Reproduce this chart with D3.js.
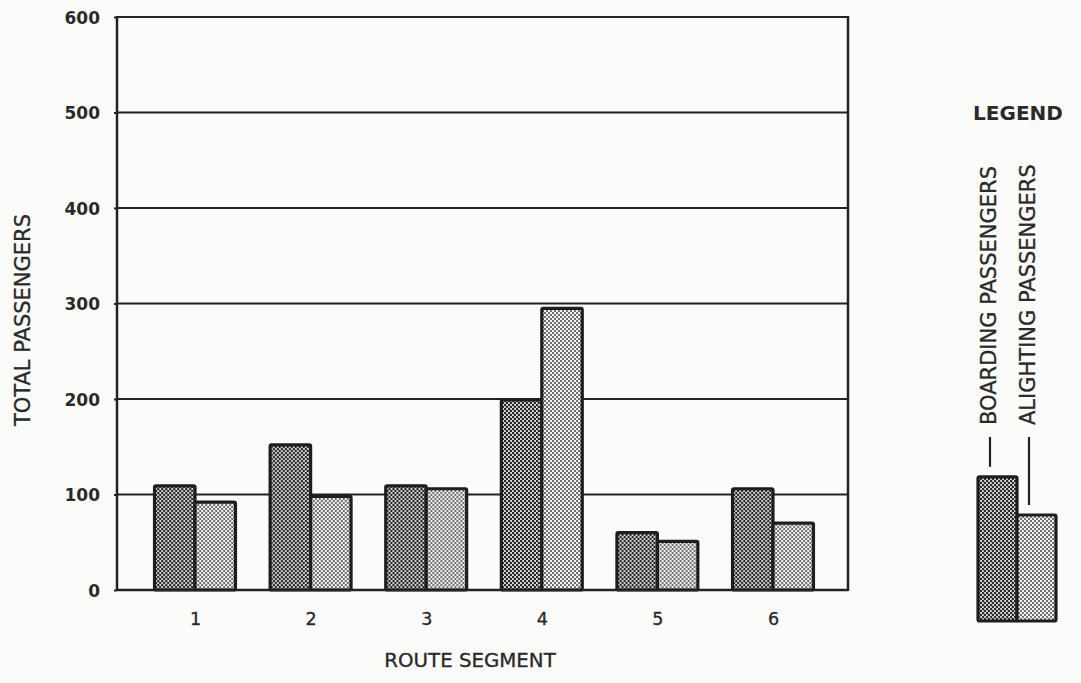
<!DOCTYPE html>
<html><head><meta charset="utf-8">
<script src="https://cdn.jsdelivr.net/npm/d3@7"></script>
<style>
html,body{margin:0;padding:0;background:#fbfbfa;}
svg{display:block;}
</style></head>
<body>
<svg id="chart" width="1081" height="683" font-family="DejaVu Sans, sans-serif"></svg>
<script>
const categories = ["1","2","3","4","5","6"];
const seriesNames = ["BOARDING PASSENGERS","ALIGHTING PASSENGERS"];
const boarding = [109, 152, 109, 199, 60, 106];
const alighting = [92, 98, 106, 295, 51, 70];
const yTicks = [0,100,200,300,400,500,600];
const legendSample = [151, 111];

const svg = d3.select("#chart");
const plot = {left:117, right:848, top:17, bottom:590};
const ink = "#2a2a2a";

const defs = svg.append("defs");
function dotPattern(id, r, bg, fg){
  const p = defs.append("pattern").attr("id", id).attr("patternUnits","userSpaceOnUse")
    .attr("width",4).attr("height",4);
  p.append("rect").attr("width",4).attr("height",4).attr("fill",bg);
  p.append("circle").attr("cx",1).attr("cy",1).attr("r",r).attr("fill",fg);
  p.append("circle").attr("cx",3).attr("cy",3).attr("r",r).attr("fill",fg);
}
dotPattern("pBoard", 1.35, "#e6e6e6", "#2b2b2b");
dotPattern("pAlight", 0.95, "#f2f2f2", "#3a3a3a");
const fills = ["url(#pBoard)","url(#pAlight)"];

const y = d3.scaleLinear().domain([0,600]).range([plot.bottom, plot.top]);
const x = d3.scaleBand().domain(categories).range([137.2, 830.8]).padding(0);
const xs = d3.scaleBand().domain([0,1]).range([x.step()*0.15, x.step()*0.85]).padding(0);

// gridlines
svg.append("g").selectAll("line").data(yTicks).join("line")
  .attr("x1", plot.left).attr("x2", plot.right)
  .attr("y1", d=>y(d)).attr("y2", d=>y(d))
  .attr("stroke","#222").attr("stroke-width",2);

// y axis
const yAxis = d3.axisLeft(y).tickValues(yTicks).tickSize(3).tickPadding(14);
const gy = svg.append("g").attr("transform",`translate(${plot.left},0)`).call(yAxis);
gy.attr("font-family",null).attr("font-size",null);
gy.select(".domain").remove();
gy.selectAll(".tick line").attr("stroke","#222").attr("stroke-width",2);
gy.selectAll(".tick text").attr("font-size",17).attr("font-weight","bold").attr("fill",ink)
  .attr("dy","0.36em");

// bars
const data = categories.map((c,i)=>({c, vals:[boarding[i], alighting[i]]}));
const groups = svg.append("g").selectAll("g").data(data).join("g")
  .attr("transform", d=>`translate(${x(d.c)},0)`);
groups.selectAll("rect").data(d=>d.vals.map((v,k)=>({v,k}))).join("rect")
  .attr("x", d=>xs(d.k)).attr("width", xs.bandwidth())
  .attr("y", d=>y(d.v)).attr("height", d=>y(0)-y(d.v))
  .attr("fill", d=>fills[d.k]).attr("stroke","#1e1e1e").attr("stroke-width",3.2)
  .attr("rx",1.5);

// frame
svg.append("line").attr("x1",plot.left).attr("x2",plot.left).attr("y1",plot.top-1).attr("y2",plot.bottom+1)
  .attr("stroke","#222").attr("stroke-width",2.5);
svg.append("line").attr("x1",plot.right).attr("x2",plot.right).attr("y1",plot.top-1).attr("y2",plot.bottom+1)
  .attr("stroke","#222").attr("stroke-width",2.5);
svg.append("line").attr("x1",plot.left).attr("x2",plot.right).attr("y1",plot.bottom).attr("y2",plot.bottom)
  .attr("stroke","#222").attr("stroke-width",2.5);

// x axis labels
const xAxis = d3.axisBottom(d3.scalePoint().domain(categories)
    .range([x(categories[0])+x.step()/2, x(categories[5])+x.step()/2]))
  .tickSize(0).tickPadding(23);
const gx = svg.append("g").attr("transform",`translate(0,${plot.bottom})`).call(xAxis);
gx.attr("font-family",null).attr("font-size",null);
gx.select(".domain").remove();
gx.selectAll(".tick text").attr("font-size",17.5).attr("fill",ink)
  .attr("stroke",ink).attr("stroke-width",0.35);

// axis titles
svg.append("text").attr("x",470).attr("y",667).attr("text-anchor","middle")
  .attr("font-size",19.8).attr("fill",ink).attr("stroke",ink).attr("stroke-width",0.35)
  .text("ROUTE SEGMENT");
svg.append("text").attr("transform","translate(30,320) rotate(-90)").attr("text-anchor","middle")
  .attr("font-size",21).attr("fill",ink).attr("stroke",ink).attr("stroke-width",0.35)
  .text("TOTAL PASSENGERS");

// legend
svg.append("text").attr("x",1018).attr("y",120).attr("text-anchor","middle")
  .attr("font-size",20).attr("font-weight","bold").attr("fill",ink).text("LEGEND");
const lg = svg.append("g").attr("transform","translate(978,0)");
const lw = 39, lBase = 621;
const lh = legendSample.map(v=>y(0)-y(v));
lg.selectAll("rect").data(legendSample).join("rect")
  .attr("x",(d,i)=>i*lw).attr("width",lw)
  .attr("y",(d,i)=>lBase-lh[i]).attr("height",(d,i)=>lh[i])
  .attr("fill",(d,i)=>fills[i]).attr("stroke","#1e1e1e").attr("stroke-width",3.2).attr("rx",1.5);
lg.selectAll("line.lead").data(legendSample).join("line").attr("class","lead")
  .attr("x1",(d,i)=>i*lw+12).attr("x2",(d,i)=>i*lw+12)
  .attr("y1",437).attr("y2",(d,i)=>lBase-lh[i]-10)
  .attr("stroke","#222").attr("stroke-width",2.2);
lg.selectAll("text").data(seriesNames).join("text")
  .attr("transform",(d,i)=>`translate(${i*lw+18},425) rotate(-90)`)
  .attr("text-anchor","start").attr("font-size",21).attr("fill",ink)
  .attr("stroke",ink).attr("stroke-width",0.35).text(d=>d);
</script>
</body></html>
